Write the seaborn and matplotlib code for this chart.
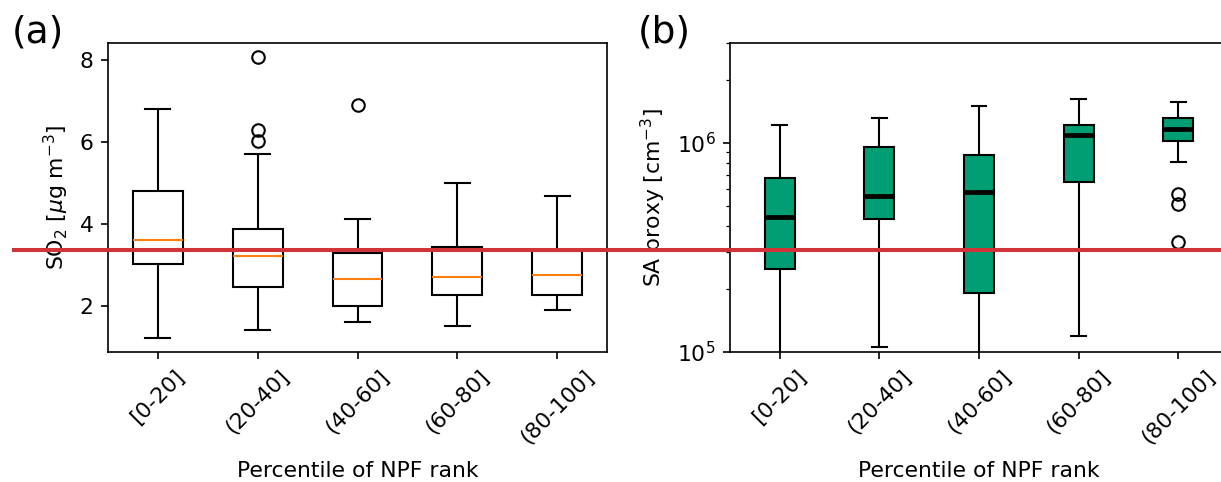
import numpy as np
import pandas as pd
import matplotlib
matplotlib.use("Agg")
import matplotlib.pyplot as plt
import matplotlib.transforms as mtransforms
from matplotlib.lines import Line2D
import seaborn as sns

# Percentile bins of the NPF rank
categories = ["[0-20]", "(20-40]", "(40-60]", "(60-80]", "(80-100]"]

# SO2 box summaries [ug m-3]
so2_low = [1.22, 1.42, 1.62, 1.52, 1.90]
so2_q1 = [3.02, 2.46, 2.00, 2.27, 2.27]
so2_median = [3.62, 3.21, 2.66, 2.71, 2.76]
so2_q3 = [4.81, 3.87, 3.30, 3.43, 3.35]
so2_high = [6.80, 5.71, 4.11, 5.01, 4.69]
so2_outliers = [[], [6.02, 6.30, 8.07], [6.89], [], []]

# SA proxy box summaries [cm-3]
sa_low = [7.0e4, 1.06e5, 7.5e4, 1.19e5, 8.06e5]
sa_q1 = [2.49e5, 4.33e5, 1.92e5, 6.52e5, 1.02e6]
sa_median = [4.41e5, 5.59e5, 5.84e5, 1.09e6, 1.17e6]
sa_q3 = [6.76e5, 9.50e5, 8.71e5, 1.22e6, 1.31e6]
sa_high = [1.215e6, 1.31e6, 1.50e6, 1.62e6, 1.57e6]
sa_outliers = [[], [], [], [], [3.34e5, 5.10e5, 5.68e5]]

# SO2 level marked across the figure
highlight_level = 3.36


def summary_sample(low, q1, med, q3, high, outliers):
    """Sample (repeated values only) whose quartiles equal q1/med/q3."""
    lows = sorted([low] + [o for o in outliers if o < q1])
    highs = sorted([high] + [o for o in outliers if o > q3])
    k = max(len(lows), len(highs), 1)
    return (lows + [q1] * (2 * k - len(lows)) + [med] * k
            + [q3] * (k + 1 - len(highs)) + highs)


def long_table(cats, lows, q1s, meds, q3s, highs, outs, name):
    rows = []
    for c, lo, a, m, b, hi, o in zip(cats, lows, q1s, meds, q3s, highs, outs):
        for v in summary_sample(lo, a, m, b, hi, o):
            rows.append({"bin": c, name: v})
    return pd.DataFrame(rows)


so2_df = long_table(categories, so2_low, so2_q1, so2_median, so2_q3,
                    so2_high, so2_outliers, "so2")
sa_df = long_table(categories, sa_low, sa_q1, sa_median, sa_q3,
                   sa_high, sa_outliers, "sa")

plt.rcParams.update({
    "font.family": "DejaVu Sans",
    "font.size": 10.5,
    "axes.linewidth": 0.8,
})

W, H, DPI = 1221, 482, 150
fig = plt.figure(figsize=(W / DPI, H / DPI), dpi=DPI)
ax1 = fig.add_axes([108 / W, 130 / H, 499 / W, 309 / H])
ax2 = fig.add_axes([730 / W, 130 / H, 498 / W, 309 / H])

flier = dict(marker="o", markersize=6, markerfacecolor="none",
             markeredgecolor="black", markeredgewidth=1.0)

# (a) SO2
sns.boxplot(data=so2_df, x="bin", y="so2", order=categories, ax=ax1,
            color="white", linecolor="black", linewidth=1.0, width=0.5,
            saturation=1, whis=1.5, flierprops=flier,
            medianprops=dict(color="#ff7f0e", linewidth=1.0))
ax1.set_xlim(-0.5, 4.5)
ax1.set_yticks([2, 4, 6, 8])
ax1.set_ylabel(r"SO$_2$ [$\mu$g m$^{-3}$]")
ax1.set_xlabel("Percentile of NPF rank", labelpad=6.5)
ax1.tick_params(axis="x", labelrotation=45)

# (b) SA proxy, statistics on linear values, shown on a log axis
sns.boxplot(data=sa_df, x="bin", y="sa", order=categories, ax=ax2,
            color="#029e73", linecolor="black", linewidth=1.0, width=0.3,
            saturation=1, whis=1.5, flierprops=flier,
            medianprops=dict(color="black", linewidth=2.3))
ax2.set_yscale("log")
ax2.set_ylim(1e5, 3e6)
ax2.set_xlim(-0.5, 4.5)
ax2.set_ylabel(r"SA proxy [cm$^{-3}$]")
ax2.set_xlabel("Percentile of NPF rank", labelpad=6.5)
ax2.tick_params(axis="x", labelrotation=45)

for ax in (ax1, ax2):
    for s in ax.spines.values():
        s.set_visible(True)
        s.set_color("black")

fig.text(12 / W, 1 - 15 / H, "(a)", fontsize=18, va="top", ha="left")
fig.text(638 / W, 1 - 15 / H, "(b)", fontsize=18, va="top", ha="left")

# Horizontal marker line at the highlighted SO2 level
trans = mtransforms.blended_transform_factory(fig.transFigure, ax1.transData)
fig.add_artist(Line2D([12 / W, 1.0], [highlight_level, highlight_level],
                      transform=trans, color="#d13438", linewidth=1.95,
                      zorder=10, solid_capstyle="butt"))

fig.savefig("out.png", dpi=DPI)
